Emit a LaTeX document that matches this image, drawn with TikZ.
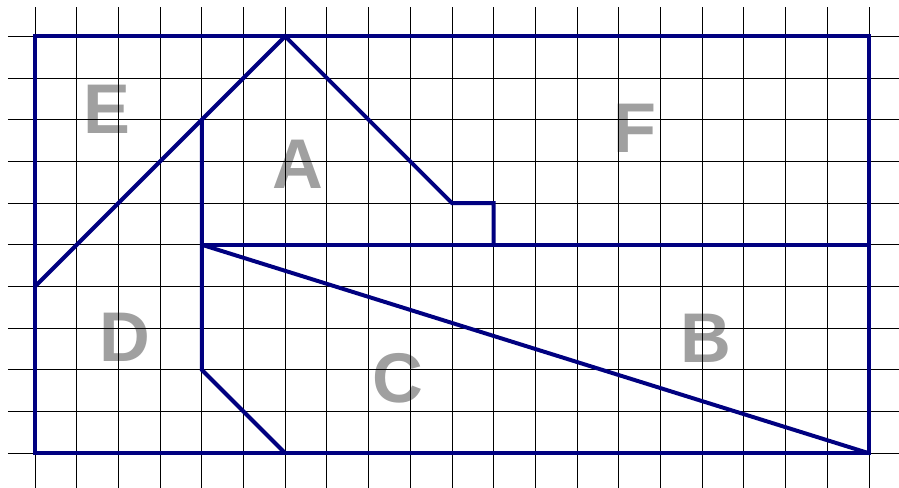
\documentclass[tikz,border=0pt]{standalone}
\usepackage{fontspec}
\setmainfont{Liberation Sans}
\definecolor{outline}{RGB}{0,0,128}
\definecolor{lettergray}{RGB}{160,160,160}
\begin{document}
\begin{tikzpicture}[x=1cm, y=1cm,
    region/.style = {text=lettergray, font=\fontsize{48}{48}\selectfont\bfseries, inner sep=0pt},
    part/.style = {draw=outline, line width=2.7pt, line join=miter}] 

    \useasboundingbox (-0.84,-0.82) rectangle (20.72,10.87);

    \node[region] (E) at (1.73,8.24) {E};
    \node[region] (A) at (6.31,6.92) {A};
    \node[region] (F) at (14.39,7.79) {F};
    \node[region] (D) at (2.16,2.79) {D};
    \node[region] (C) at (8.71,1.80) {C};
    \node[region] (B) at (16.09,2.76) {B};

    \foreach \i in {0,...,20}
        \draw[line width=0.6pt] (\i,-0.9) -- (\i,10.7);
    \foreach \j in {0,...,10}
        \draw[line width=0.6pt] (-0.65,\j) -- (20.8,\j);

    \draw[part] (0,0) rectangle (20,10);
    \draw[part] (0,4) -- (6,10) -- (10,6) -- (11,6) -- (11,5);
    \draw[part] (4,5) -- (20,5);
    \draw[part] (4,8) -- (4,2) -- (6,0);
    \draw[part] (4,5) -- (20,0);

\end{tikzpicture}
\end{document}
